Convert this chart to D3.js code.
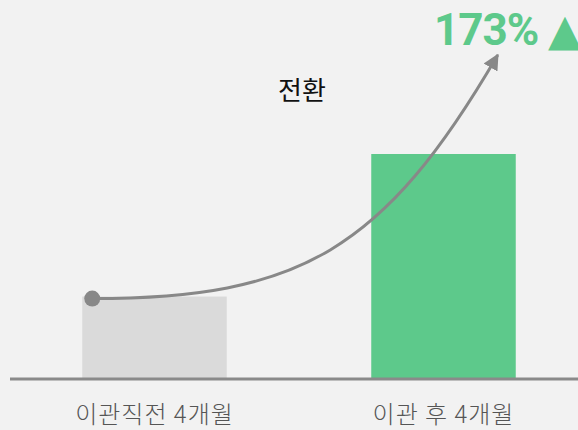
<!DOCTYPE html>
<html><head><meta charset="utf-8">
<script src="https://cdn.jsdelivr.net/npm/d3@7"></script>
<style>
html,body{margin:0;padding:0;background:#f2f2f2;}
svg{display:block;}
</style></head>
<body>
<svg id="chart" width="578" height="430"></svg>
<script>
const categories = ["이관직전 4개월", "이관 후 4개월"];
const values = [100, 273];
const barColors = ["#dadada", "#5dc98b"];
const changeLabel = "173%";
const changeMark = "▲";
const arrowLabel = "전환";

const W = 578, H = 430;
const svg = d3.select("#chart");
svg.append("rect").attr("width", W).attr("height", H).attr("fill", "#f2f2f2");

const baseY = 379;
const x = d3.scaleBand().domain(categories).range([10, 588]).paddingInner(0.5).paddingOuter(0.25);
const y = d3.scaleLinear().domain([0, 273]).range([baseY, 154]);

svg.selectAll("rect.bar").data(values).enter().append("rect")
  .attr("class", "bar")
  .attr("x", (d, i) => x(categories[i]))
  .attr("width", x.bandwidth())
  .attr("y", d => y(d))
  .attr("height", d => baseY - y(d))
  .attr("fill", (d, i) => barColors[i]);

// axis
const axis = d3.axisBottom(x).tickSize(0).tickPadding(27);
const gA = svg.append("g").attr("transform", `translate(0,${baseY})`).call(axis);
gA.select(".domain").remove();
svg.append("line").attr("x1", 10).attr("x2", W).attr("y1", baseY).attr("y2", baseY)
  .attr("stroke", "#8a8a8a").attr("stroke-width", 3);
gA.selectAll("text")
  .attr("font-family", "'Noto Sans CJK KR', 'Noto Sans', sans-serif")
  .attr("font-weight", 300)
  .attr("font-size", 24).attr("fill", "#555").attr("dy", "0.71em")
  .attr("letter-spacing", 1);

// arrow annotation
const defs = svg.append("defs");
defs.append("marker").attr("id", "ah").attr("viewBox", "0 0 10 10")
  .attr("refX", 9).attr("refY", 5).attr("markerWidth", 16).attr("markerHeight", 16)
  .attr("markerUnits", "userSpaceOnUse").attr("orient", "auto")
  .append("path").attr("d", "M0,0 L10,5 L0,10 Z").attr("fill", "#888");

const p0 = [x(categories[0]) + 10, y(values[0]) + 2];
const p3 = [x(categories[1]) + x.bandwidth() - 18, 55];
const p1 = [300, p0[1]];
const p2 = [384, 250];
const path = d3.path();
path.moveTo(p0[0], p0[1]);
path.bezierCurveTo(p1[0], p1[1], p2[0], p2[1], p3[0], p3[1]);
svg.append("path").attr("d", path.toString()).attr("fill", "none")
  .attr("stroke", "#888").attr("stroke-width", 3).attr("marker-end", "url(#ah)");
svg.append("circle").attr("cx", p0[0]).attr("cy", p0[1]).attr("r", 8).attr("fill", "#888");

svg.append("text").attr("x", 302).attr("y", 100).attr("text-anchor", "middle")
  .attr("font-family", "'Noto Sans CJK KR', sans-serif").attr("font-size", 26)
  .attr("fill", "#111").text(arrowLabel);

svg.append("text").attr("x", 434).attr("y", 45)
  .attr("font-family", "Roboto, sans-serif").attr("font-weight", 700).attr("font-size", 44)
  .attr("fill", "#5dc98b").attr("letter-spacing", -1).text(changeLabel);
svg.append("text").attr("x", 548).attr("y", 45)
  .attr("font-family", "'DejaVu Sans', sans-serif").attr("font-size", 44)
  .attr("fill", "#5dc98b").text(changeMark);
</script>
</body></html>
